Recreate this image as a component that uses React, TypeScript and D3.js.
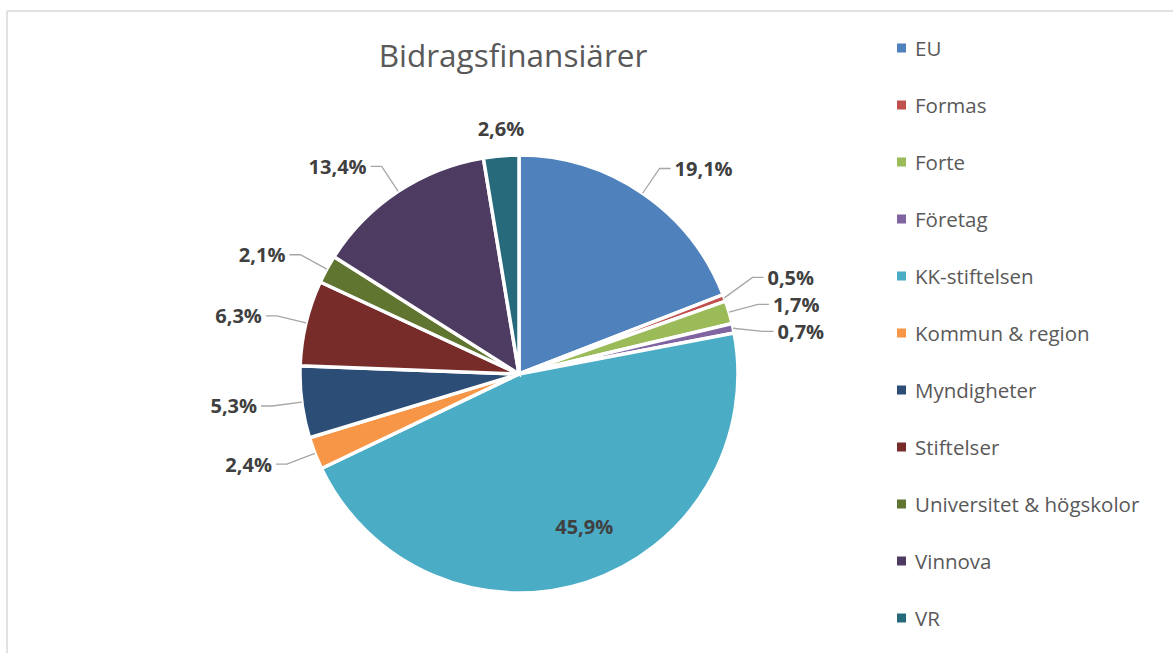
import React from "react";
import * as d3 from "d3";

const categories = [
  "EU",
  "Formas",
  "Forte",
  "Företag",
  "KK-stiftelsen",
  "Kommun & region",
  "Myndigheter",
  "Stiftelser",
  "Universitet & högskolor",
  "Vinnova",
  "VR",
];
const shares = [19.1, 0.5, 1.7, 0.7, 45.9, 2.4, 5.3, 6.3, 2.1, 13.4, 2.6];
const colors = [
  "#4F81BD",
  "#C0504D",
  "#9BBB59",
  "#8064A2",
  "#4BACC6",
  "#F79646",
  "#2C4D75",
  "#772C2A",
  "#5F7530",
  "#4D3B62",
  "#276A7C",
];
const title = "Bidragsfinansiärer";

const W = 1173;
const H = 653;
const cx = 519;
const cy = 374;
const R = 219;
const LABEL_FS = 20;

type Datum = { name: string; value: number; color: string };

export default function App() {
  const data: Datum[] = categories.map((c, i) => ({ name: c, value: shares[i], color: colors[i] }));
  const pie = d3.pie<Datum>().value((d) => d.value).sort(null);
  const arcs = pie(data);
  const arc = d3.arc<d3.PieArcDatum<Datum>>().innerRadius(0).outerRadius(R);
  const fmt = (v: number) => v.toFixed(1).replace(".", ",") + "%";

  type Lab = {
    i: number;
    mid: number;
    sx: number;
    sy: number;
    ex: number;
    ey: number;
    side: number;
    inside: boolean;
    top: boolean;
  };
  const labs: Lab[] = arcs.map((a, i) => {
    const mid = (a.startAngle + a.endAngle) / 2;
    const inside = a.endAngle - a.startAngle > 1.5;
    const s = Math.sin(mid);
    const c = Math.cos(mid);
    const re = R + 30;
    return {
      i,
      mid,
      sx: cx + R * s,
      sy: cy - R * c,
      ex: cx + re * s,
      ey: cy - re * c,
      side: s >= 0 ? 1 : -1,
      inside,
      top: Math.abs(s) < 0.15 && c > 0,
    };
  });
  const minGap = 27;
  [1, -1].forEach((side) => {
    const group = labs
      .filter((l) => l.side === side && !l.inside && !l.top)
      .sort((a, b) => a.ey - b.ey);
    for (let iter = 0; iter < 200; iter++) {
      let moved = false;
      for (let k = 1; k < group.length; k++) {
        const a = group[k - 1];
        const b = group[k];
        const overlap = minGap - (b.ey - a.ey);
        if (overlap > 0.01) {
          a.ey -= overlap / 2;
          b.ey += overlap / 2;
          moved = true;
        }
      }
      if (!moved) break;
    }
  });

  const legendX = 897;
  const legendY0 = 48;
  const legendStep = 57;

  return (
    <svg width={W} height={H} style={{ position: "absolute", left: 0, top: 0 }}>
      <rect x={0} y={0} width={W} height={H} fill="#fff" />
      <line x1={7} y1={11} x2={W} y2={11} stroke="#D9D9D9" strokeWidth={1.5} />
      <line x1={7} y1={11} x2={7} y2={H} stroke="#D9D9D9" strokeWidth={1.5} />
      <text
        x={513}
        y={67}
        textAnchor="middle"
        fontFamily="Open Sans"
        fontSize={31.5}
        fill="#595959"
      >
        {title}
      </text>
      <g transform={`translate(${cx},${cy})`}>
        {arcs.map((a, i) => (
          <path key={i} d={arc(a) || ""} fill={a.data.color} stroke="#fff" strokeWidth={3.5} strokeLinejoin="miter" />
        ))}
      </g>
      {labs.map((l) => {
        const txt = fmt(data[l.i].value);
        if (l.inside) {
          const rr = R * 0.75;
          return (
            <text
              key={l.i}
              x={cx + rr * Math.sin(l.mid) + 14}
              y={cy - rr * Math.cos(l.mid) - 4}
              textAnchor="middle"
              dominantBaseline="central"
              fontFamily="Open Sans"
              fontWeight="bold"
              fontSize={LABEL_FS}
              fill="#404040"
            >
              {txt}
            </text>
          );
        }
        if (l.top) {
          return (
            <text
              key={l.i}
              x={cx + (R + 27) * Math.sin(l.mid) + 2}
              y={cy - (R + 27) * Math.cos(l.mid)}
              textAnchor="middle"
              dominantBaseline="central"
              fontFamily="Open Sans"
              fontWeight="bold"
              fontSize={LABEL_FS}
              fill="#404040"
            >
              {txt}
            </text>
          );
        }
        const hx = l.ex + l.side * 11;
        return (
          <g key={l.i}>
            <polyline
              points={`${l.sx},${l.sy} ${l.ex},${l.ey} ${hx},${l.ey}`}
              fill="none"
              stroke="#A6A6A6"
              strokeWidth={1.3}
            />
            <text
              x={hx + l.side * 4}
              y={l.ey}
              textAnchor={l.side > 0 ? "start" : "end"}
              dominantBaseline="central"
              fontFamily="Open Sans"
              fontWeight="bold"
              fontSize={LABEL_FS}
              fill="#404040"
            >
              {txt}
            </text>
          </g>
        );
      })}
      {data.map((d, i) => (
        <g key={d.name} transform={`translate(${legendX},${legendY0 + i * legendStep})`}>
          <rect x={0} y={-4.5} width={9} height={9} fill={d.color} />
          <text
            x={18}
            y={0}
            dominantBaseline="central"
            fontFamily="Open Sans"
            fontSize={20.5}
            fill="#595959"
          >
            {d.name}
          </text>
        </g>
      ))}
    </svg>
  );
}
